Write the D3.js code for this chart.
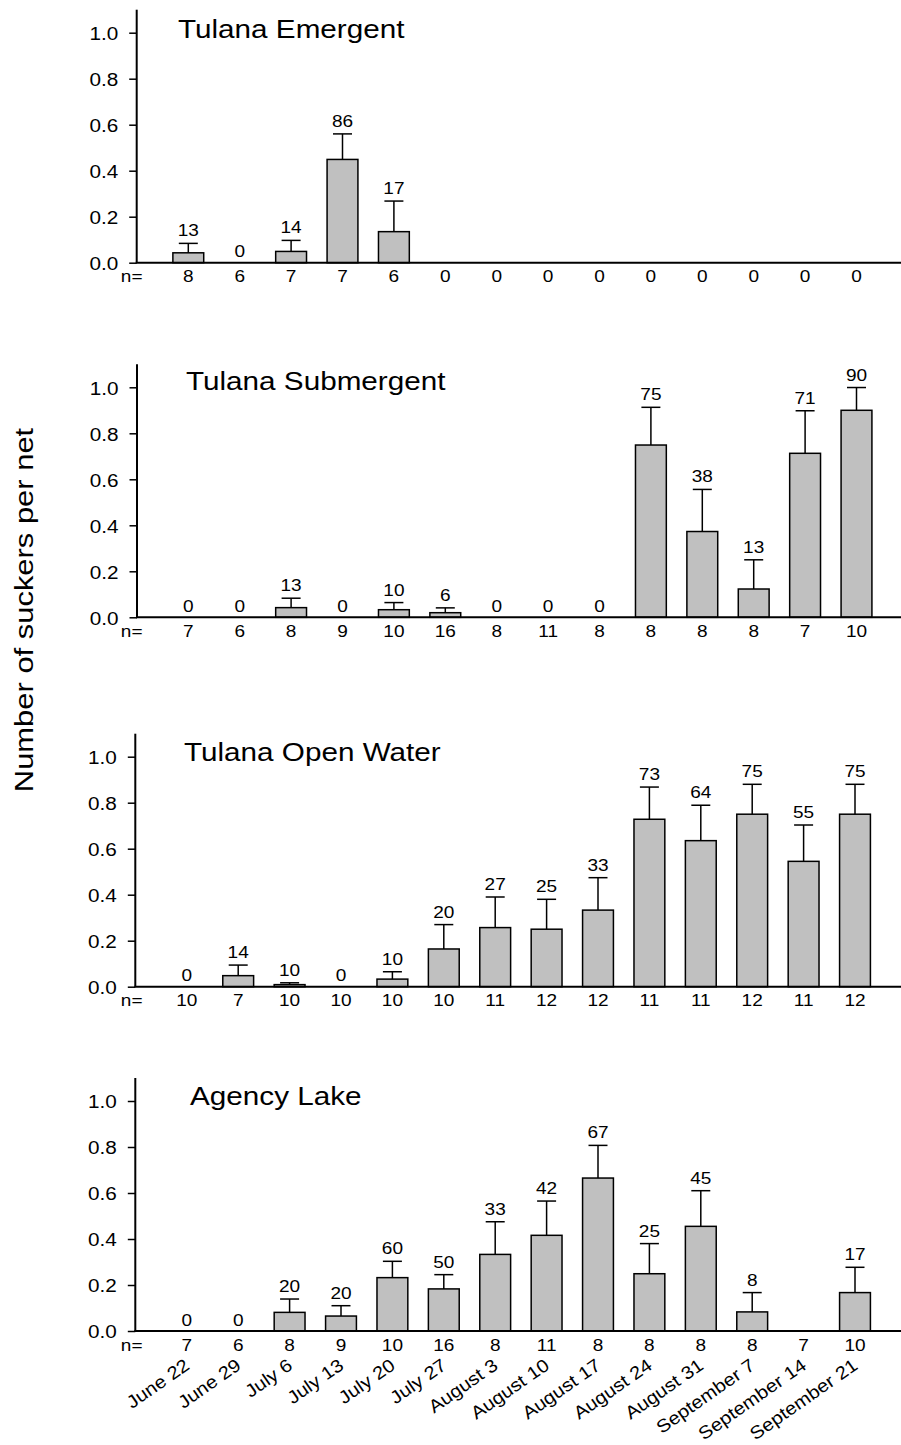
<!DOCTYPE html>
<html>
<head>
<meta charset="utf-8">
<script src="https://cdn.jsdelivr.net/npm/d3@7"></script>
<style>
  html, body { margin: 0; padding: 0; background: #fff; }
  svg { display: block; font-family: "Liberation Sans", Arial, Helvetica, sans-serif; }
  text { fill: #000; }
</style>
</head>
<body>
<svg id="chart" width="901" height="1445"></svg>
<script>
// Sampling dates (x categories)
const dates = ["June 22", "June 29", "July 6", "July 13", "July 20", "July 27",
  "August 3", "August 10", "August 17", "August 24", "August 31",
  "September 7", "September 14", "September 21"];

const yTicks = [0, 0.2, 0.4, 0.6, 0.8, 1.0];

// Tulana Emergent
const emergentMean = [0.043, 0, 0.049, 0.449, 0.135, 0, 0, 0, 0, 0, 0, 0, 0, 0];
const emergentSE   = [0.041, 0, 0.048, 0.111, 0.133, 0, 0, 0, 0, 0, 0, 0, 0, 0];
const emergentPct  = [13, 0, 14, 86, 17, null, null, null, null, null, null, null, null, null];
const emergentN    = [8, 6, 7, 7, 6, 0, 0, 0, 0, 0, 0, 0, 0, 0];

// Tulana Submergent
const submergentMean = [0, 0, 0.042, 0, 0.033, 0.020, 0, 0, 0, 0.749, 0.373, 0.123, 0.713, 0.900];
const submergentSE   = [0, 0, 0.041, 0, 0.031, 0.021, 0, 0, 0, 0.164, 0.183, 0.127, 0.185, 0.099];
const submergentPct  = [0, 0, 13, 0, 10, 6, 0, 0, 0, 75, 38, 13, 71, 90];
const submergentN    = [7, 6, 8, 9, 10, 16, 8, 11, 8, 8, 8, 8, 7, 10];

// Tulana Open Water
const openMean = [0, 0.048, 0.009, 0, 0.033, 0.164, 0.257, 0.250, 0.333, 0.728, 0.635, 0.750, 0.545, 0.750];
const openSE   = [0, 0.046, 0.008, 0, 0.032, 0.106, 0.133, 0.130, 0.141, 0.140, 0.154, 0.130, 0.158, 0.130];
const openPct  = [0, 14, 10, 0, 10, 20, 27, 25, 33, 73, 64, 75, 55, 75];
const openN    = [10, 7, 10, 10, 10, 10, 11, 12, 12, 11, 11, 12, 11, 12];

// Agency Lake
const agencyMean = [0, 0, 0.081, 0.065, 0.232, 0.183, 0.333, 0.416, 0.665, 0.249, 0.455, 0.083, 0, 0.167];
const agencySE   = [0, 0, 0.058, 0.045, 0.071, 0.062, 0.142, 0.149, 0.142, 0.131, 0.155, 0.084, 0, 0.110];
const agencyPct  = [0, 0, 20, 20, 60, 50, 33, 42, 67, 25, 45, 8, null, 17];
const agencyN    = [7, 6, 8, 9, 10, 16, 8, 11, 8, 8, 8, 8, 7, 10];

const panels = [
  { title: "Tulana Emergent",   mean: emergentMean,   se: emergentSE,   pct: emergentPct,   n: emergentN,   zero: 262.7, axisX: 136.7, dx: 0,    titleX: 178, titleY: 37.5 },
  { title: "Tulana Submergent", mean: submergentMean, se: submergentSE, pct: submergentPct, n: submergentN, zero: 617.3, axisX: 137,   dx: 0,    titleX: 186, titleY: 390 },
  { title: "Tulana Open Water", mean: openMean,       se: openSE,       pct: openPct,       n: openN,       zero: 986.7, axisX: 135.3, dx: -1.5, titleX: 184, titleY: 761 },
  { title: "Agency Lake",       mean: agencyMean,     se: agencySE,     pct: agencyPct,     n: agencyN,     zero: 1331,  axisX: 135.3, dx: -1.5, titleX: 190, titleY: 1105, dates: true }
];

const SX = 1.12;          // horizontal widening of the lettering
const UNIT = 230;         // pixels per 1.0 on the y scale
const svg = d3.select("#chart");
svg.append("rect").attr("width", 901).attr("height", 1445).attr("fill", "#fff");

function label(g, x, y, s, size, anchor, rot = 0, sx = SX) {
  return g.append("text")
    .attr("transform", `translate(${x},${y}) rotate(${rot}) scale(${sx},1)`)
    .attr("text-anchor", anchor)
    .style("font-size", size + "px")
    .text(s);
}

panels.forEach(p => {
  const g = svg.append("g");
  const x = d3.scaleBand().domain(dates)
    .range([162.6 + p.dx, 882.2 + p.dx])
    .paddingInner(0.4).paddingOuter(0.2);
  const y = d3.scaleLinear().domain([0, 1.1]).range([p.zero, p.zero - 1.1 * UNIT]);
  const cx = d => x(d) + x.bandwidth() / 2;

  // bars
  const rows = dates.map((d, i) => ({ d, m: p.mean[i], s: p.se[i], pct: p.pct[i], n: p.n[i] }));
  g.selectAll("rect.bar").data(rows.filter(r => r.m > 0)).join("rect")
    .attr("class", "bar")
    .attr("x", r => x(r.d)).attr("width", x.bandwidth())
    .attr("y", r => y(r.m)).attr("height", r => y(0) - y(r.m))
    .attr("fill", "#c0c0c0").attr("stroke", "#000").attr("stroke-width", 1.5);

  // upper error bars
  const eb = rows.filter(r => r.s > 0);
  g.selectAll("line.stem").data(eb).join("line")
    .attr("x1", r => cx(r.d)).attr("x2", r => cx(r.d))
    .attr("y1", r => y(r.m)).attr("y2", r => y(r.m + r.s))
    .attr("stroke", "#000").attr("stroke-width", 1.5);
  g.selectAll("line.cap").data(eb).join("line")
    .attr("x1", r => cx(r.d) - 9.5).attr("x2", r => cx(r.d) + 9.5)
    .attr("y1", r => y(r.m + r.s)).attr("y2", r => y(r.m + r.s))
    .attr("stroke", "#000").attr("stroke-width", 1.5);

  // percent labels above bars
  rows.filter(r => r.pct !== null).forEach(r => {
    const top = r.m + r.s;
    const yy = top > 0 ? y(top) - 7 : y(0) - 5.5;
    label(g, cx(r.d), yy, String(r.pct), 17, "middle");
  });

  // x axis baseline
  g.append("line").attr("x1", p.axisX - 1).attr("x2", 901)
    .attr("y1", y(0)).attr("y2", y(0)).attr("stroke", "#000").attr("stroke-width", 2);

  // y axis
  const ax = g.append("g").attr("transform", `translate(${p.axisX},0)`)
    .call(d3.axisLeft(y).tickValues(yTicks).tickFormat(d3.format(".1f")).tickSize(7.5).tickSizeOuter(0));
  ax.select(".domain").attr("stroke-width", 2).attr("d", `M0,${y(1.1)}V${y(0)}`);
  ax.selectAll(".tick line").attr("stroke-width", 1.5);
  ax.selectAll(".tick text")
    .attr("x", null).attr("dy", null)
    .attr("transform", "translate(-18.5,6.7) scale(" + SX + ",1)")
    .style("font-size", "18.5px").attr("font-family", null);
  ax.attr("font-family", null).attr("font-size", null);

  // sample sizes
  label(g, 131.7, y(0) + 19.5, "n=", 17, "middle");
  rows.forEach(r => label(g, cx(r.d), y(0) + 19.5, String(r.n), 17, "middle"));

  // panel title
  label(g, p.titleX, p.titleY, p.title, 26.5, "start");

  // date labels under the last panel
  if (p.dates) {
    dates.forEach(d => label(g, cx(d) + 4, y(0) + 37, d, 18, "end", -35));
  }
});

// y axis title
label(svg, 33.3, 610, "Number of suckers per net", 26, "middle", -90, 1.19);
</script>
</body>
</html>
